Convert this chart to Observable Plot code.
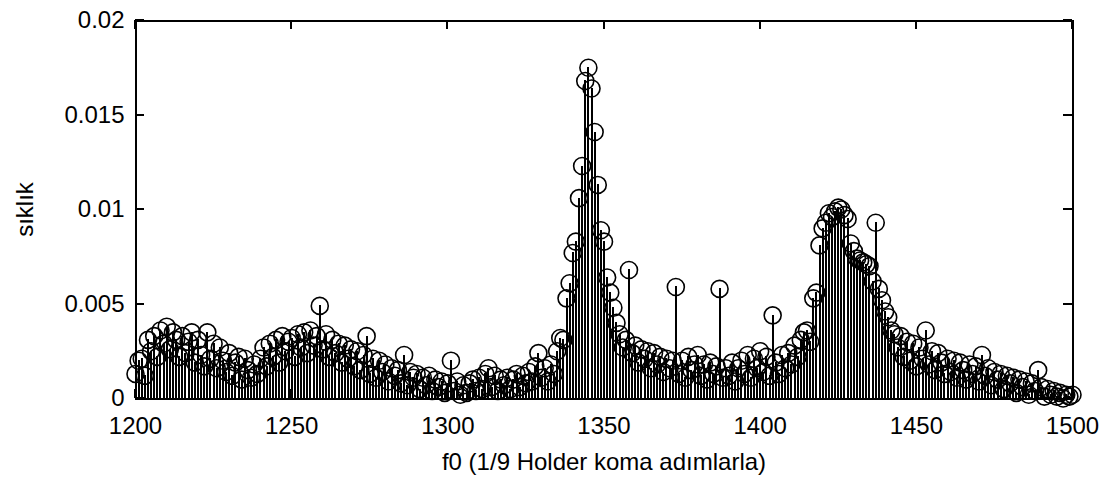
<!DOCTYPE html>
<html>
<head>
<meta charset="utf-8">
<script src="https://cdn.jsdelivr.net/npm/d3@7"></script>
<script src="https://cdn.jsdelivr.net/npm/@observablehq/plot@0.6"></script>
<style>
  html, body { margin: 0; padding: 0; background: #fff; }
  #chart { width: 1104px; height: 478px; }
  svg { display: block; }
</style>
</head>
<body>
<div id="chart"></div>
<script>
// f0 bins, 1/9 Holder comma steps
const f0Start = 1200;

// relative frequency per bin (1200 ... 1500)
const freq = [
  // 1200-1209
  0.0013, 0.0020, 0.0021, 0.0012, 0.0031, 0.0025, 0.0033, 0.0022, 0.0036, 0.0029,
  // 1210-1219
  0.0038, 0.0026, 0.0035, 0.0031, 0.0022, 0.0033, 0.0024, 0.0030, 0.0035, 0.0019,
  // 1220-1229
  0.0031, 0.0023, 0.0017, 0.0035, 0.0021, 0.0029, 0.0016, 0.0027, 0.0020, 0.0014,
  // 1230-1239
  0.0024, 0.0012, 0.0019, 0.0022, 0.0010, 0.0021, 0.0015, 0.0011, 0.0018, 0.0013,
  // 1240-1249
  0.0021, 0.0027, 0.0017, 0.0029, 0.0022, 0.0031, 0.0019, 0.0033, 0.0025, 0.0030,
  // 1250-1259
  0.0032, 0.0022, 0.0034, 0.0027, 0.0035, 0.0024, 0.0036, 0.0028, 0.0033, 0.0049,
  // 1260-1269
  0.0026, 0.0034, 0.0022, 0.0031, 0.0024, 0.0029, 0.0019, 0.0028, 0.0021, 0.0026,
  // 1270-1279
  0.0017, 0.0025, 0.0015, 0.0023, 0.0033, 0.0013, 0.0021, 0.0011, 0.0020, 0.0014,
  // 1280-1289
  0.0018, 0.0009, 0.0016, 0.0012, 0.0015, 0.0008, 0.0023, 0.0007, 0.0014, 0.0011,
  // 1290-1299
  0.0013, 0.0005, 0.0011, 0.0007, 0.0012, 0.0004, 0.0010, 0.0006, 0.0009, 0.0003,
  // 1300-1309
  0.0008, 0.0020, 0.0004, 0.0009, 0.0002, 0.0007, 0.0003, 0.0008, 0.0010, 0.0004,
  // 1310-1319
  0.0011, 0.0005, 0.0013, 0.0016, 0.0006, 0.0012, 0.0004, 0.0010, 0.0007, 0.0011,
  // 1320-1329
  0.0005, 0.0010, 0.0013, 0.0006, 0.0012, 0.0008, 0.0014, 0.0009, 0.0017, 0.0024,
  // 1330-1339
  0.0011, 0.0016, 0.0009, 0.0018, 0.0013, 0.0025, 0.0032, 0.0031, 0.0053, 0.0061,
  // 1340-1349
  0.0077, 0.0083, 0.0106, 0.0123, 0.0168, 0.0175, 0.0164, 0.0141, 0.0113, 0.0089,
  // 1350-1359
  0.0083, 0.0064, 0.0056, 0.0048, 0.0040, 0.0034, 0.0027, 0.0031, 0.0068, 0.0024,
  // 1360-1369
  0.0028, 0.0019, 0.0026, 0.0021, 0.0025, 0.0016, 0.0024, 0.0018, 0.0022, 0.0014,
  // 1370-1379
  0.0021, 0.0016, 0.0020, 0.0059, 0.0013, 0.0020, 0.0011, 0.0022, 0.0015, 0.0018,
  // 1380-1389
  0.0023, 0.0012, 0.0018, 0.0010, 0.0019, 0.0013, 0.0017, 0.0058, 0.0011, 0.0016,
  // 1390-1399
  0.0012, 0.0019, 0.0009, 0.0016, 0.0020, 0.0013, 0.0023, 0.0011, 0.0021, 0.0016,
  // 1400-1409
  0.0025, 0.0014, 0.0022, 0.0012, 0.0044, 0.0019, 0.0013, 0.0023, 0.0016, 0.0024,
  // 1410-1419
  0.0018, 0.0028, 0.0022, 0.0031, 0.0035, 0.0036, 0.0030, 0.0053, 0.0056, 0.0081,
  // 1420-1429
  0.0090, 0.0093, 0.0098, 0.0096, 0.0099, 0.0101, 0.0100, 0.0097, 0.0095, 0.0082,
  // 1430-1439
  0.0078, 0.0074, 0.0073, 0.0072, 0.0071, 0.0070, 0.0062, 0.0093, 0.0058, 0.0052,
  // 1440-1449
  0.0046, 0.0043, 0.0036, 0.0034, 0.0027, 0.0033, 0.0022, 0.0030, 0.0020, 0.0029,
  // 1450-1459
  0.0017, 0.0027, 0.0021, 0.0036, 0.0018, 0.0025, 0.0015, 0.0024, 0.0019, 0.0013,
  // 1460-1469
  0.0021, 0.0014, 0.0020, 0.0011, 0.0019, 0.0015, 0.0010, 0.0018, 0.0013, 0.0017,
  // 1470-1479
  0.0009, 0.0023, 0.0012, 0.0016, 0.0007, 0.0014, 0.0010, 0.0013, 0.0005, 0.0012,
  // 1480-1489
  0.0008, 0.0011, 0.0003, 0.0010, 0.0006, 0.0009, 0.0002, 0.0008, 0.0004, 0.0015,
  // 1490-1499
  0.0006, 0.0001, 0.0005, 0.0002, 0.0004, 0.0001, 0.0003, 0.0000, 0.0002, 0.0001,
  // 1500
  0.0002
];

const xTicks = [1200, 1250, 1300, 1350, 1400, 1450, 1500];
const xTickLabels = ["1200", "1250", "1300", "1350", "1400", "1450", "1500"];
const yTicks = [0, 0.005, 0.01, 0.015, 0.02];
const yTickLabels = ["0", "0.005", "0.01", "0.015", "0.02"];

const xTitle = "f0 (1/9 Holder koma adımlarla)";
const yTitle = "sıklık";

const rows = freq.map((v, i) => ({f0: f0Start + i, v}));

const W = 1104, H = 478;
const mL = 135, mR = 32, mT = 20, mB = 80;
const fontFamily = "'Liberation Sans', Arial, sans-serif";
const tickLen = 9;

const plot = Plot.plot({
  width: W,
  height: H,
  marginLeft: mL,
  marginRight: mR,
  marginTop: mT,
  marginBottom: mB,
  style: {fontFamily, fontSize: "24px", color: "#000", background: "#fff", overflow: "visible"},
  x: {domain: [1200, 1500]},
  y: {domain: [0, 0.02]},
  marks: [
    // stems
    Plot.ruleX(rows, {x: "f0", y1: 0, y2: "v", stroke: "#000", strokeWidth: 2, shapeRendering: "crispEdges"}),
    // open circle markers
    Plot.dot(rows, {x: "f0", y: "v", r: 8.5, stroke: "#000", strokeWidth: 1.6, fill: "none"}),
    Plot.frame({stroke: "#000", strokeWidth: 2, shapeRendering: "crispEdges"}),
    Plot.axisX(xTicks, {anchor: "bottom", tickSize: 0, tickPadding: 18, label: null, fontSize: 24,
      tickFormat: d => xTickLabels[xTicks.indexOf(d)]}),
    Plot.axisY(yTicks, {anchor: "left", tickSize: 0, tickPadding: 11, label: null, fontSize: 24,
      tickFormat: d => yTickLabels[yTicks.indexOf(d)]}),
    Plot.text([xTitle], {frameAnchor: "bottom", dy: 64, text: d => d, fontSize: 24, textAnchor: "middle", lineAnchor: "middle"}),
    Plot.text([yTitle], {frameAnchor: "left", dx: -110, text: d => d, fontSize: 24, rotate: -90, textAnchor: "middle", lineAnchor: "middle"})
  ]
});

// inward tick marks on all four sides, positioned through the plot's scales
const sx = plot.scale("x"), sy = plot.scale("y");
const svg = d3.select(plot);
const g = svg.append("g").attr("stroke", "#000").attr("stroke-width", 2).attr("shape-rendering", "crispEdges");
const edgeTop = mT, edgeBottom = H - mB, edgeLeft = mL, edgeRight = W - mR;
for (const t of xTicks) {
  const px = sx.apply(t);
  g.append("line").attr("x1", px).attr("x2", px).attr("y1", edgeBottom).attr("y2", edgeBottom - tickLen);
  g.append("line").attr("x1", px).attr("x2", px).attr("y1", edgeTop).attr("y2", edgeTop + tickLen);
}
for (const t of yTicks) {
  const py = sy.apply(t);
  g.append("line").attr("y1", py).attr("y2", py).attr("x1", edgeLeft).attr("x2", edgeLeft + tickLen);
  g.append("line").attr("y1", py).attr("y2", py).attr("x1", edgeRight).attr("x2", edgeRight - tickLen);
}

document.getElementById("chart").appendChild(plot);
</script>
</body>
</html>
